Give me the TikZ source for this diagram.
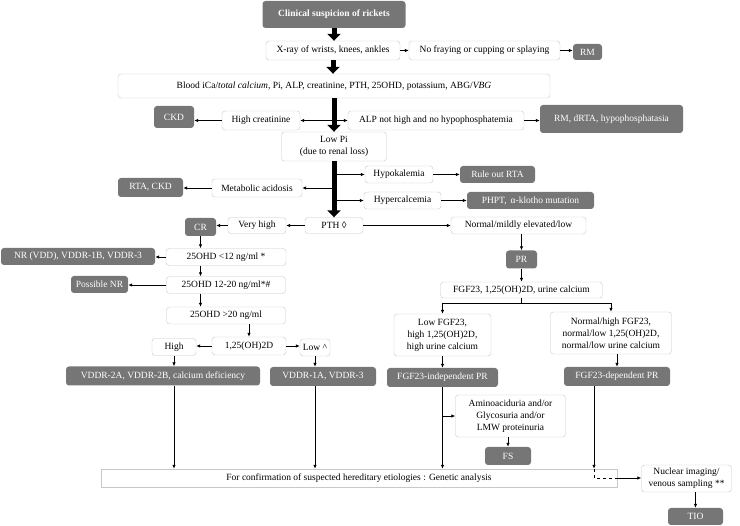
\documentclass[tikz,border=0pt]{standalone}
\usepackage{fontspec}
\setmainfont{Liberation Serif}
\usetikzlibrary{arrows.meta}
\definecolor{boxgray}{RGB}{118,118,118}
\definecolor{linegray}{RGB}{200,200,200}
\tikzset{
 wbox/.style={draw=linegray, fill=white, rounded corners=3pt, align=center, inner sep=1pt,
  font=\fontsize{9.5}{12}\selectfont},
 dbox/.style={fill=boxgray, text=white, rounded corners=3pt, align=center, inner sep=1pt,
  font=\fontsize{9.5}{12}\selectfont},
 sz/.style 2 args={minimum width=#1pt, minimum height=#2pt},
 arr/.style={-{Latex[length=4pt,width=3.5pt]}, line width=0.8pt},
 fat/.style={-{Triangle[length=7pt,width=13pt]}, line width=5pt},
}

\begin{document}
\begin{tikzpicture}[x=1pt,y=-1pt]
\useasboundingbox (0,0) rectangle (740,526);
% main column
\node[dbox,sz={143}{27}] (clin) at (334,14.5) {\textbf{Clinical suspicion of rickets}};
\node[wbox,sz={134}{19}] (xray) at (333,50.5) {X-ray of wrists, knees, ankles};
\node[wbox,sz={151}{19}] (nofray) at (484.5,50.5) {No fraying or cupping or splaying};
\node[dbox,sz={29}{16}] (rm) at (587.5,52) {RM};
\node[wbox,sz={432}{24}] (blood) at (334,86) {Blood iCa/\textit{total calcium}, Pi, ALP, creatinine, PTH, 25OHD, potassium, ABG/\textit{VBG}};
\node[wbox,sz={78}{19}] (hcre) at (261,120.5) {High creatinine};
\node[dbox,sz={40}{22}] (ckd) at (174,117) {CKD};
\node[wbox,sz={176}{19}] (alp) at (436,120.5) {ALP not high and no hypophosphatemia};
\node[dbox,sz={143}{28}] (rmd) at (611.5,119) {RM, dRTA, hypophosphatasia};
\node[wbox,sz={105}{29}] (lowpi) at (334,146.5) {Low Pi\\(due to renal loss)};
\node[wbox,sz={68}{17}] (hypok) at (399,174.5) {Hypokalemia};
\node[dbox,sz={75}{17}] (ruleout) at (497.5,174.5) {Rule out RTA};
\node[wbox,sz={90}{18}] (macid) at (257,188) {Metabolic acidosis};
\node[dbox,sz={65}{19}] (rtackd) at (150.5,187.5) {RTA, CKD};
\node[wbox,sz={77}{17}] (hyperc) at (402.5,200.5) {Hypercalcemia};
\node[dbox,sz={127}{17}] (phpt) at (530.5,200.5) {PHPT,\, α-klotho mutation};
\node[wbox,sz={58}{16}] (pth) at (334,225.5) {PTH ◊};
% calcipenic side
\node[wbox,sz={58}{16}] (vhigh) at (257,225.5) {Very high};
\node[dbox,sz={31}{18}] (cr) at (200.5,227) {CR};
\node[wbox,sz={120}{17}] (oh12) at (226,257) {25OHD <12 ng/ml *};
\node[dbox,sz={154}{17}] (nr) at (78,256.5) {NR (VDD), VDDR-1B, VDDR-3};
\node[wbox,sz={119}{17}] (oh1220) at (226,285) {25OHD 12-20 ng/ml*\#};
\node[dbox,sz={57}{17}] (posnr) at (99.5,284.5) {Possible NR};
\node[wbox,sz={119}{17}] (oh20) at (226,315.5) {25OHD >20 ng/ml};
\node[wbox,sz={74}{18}] (d125) at (249,346) {1,25(OH)2D};
\node[wbox,sz={44}{17}] (high) at (174,347) {High};
\node[wbox,sz={30}{17}] (low) at (315,347.5) {Low \textasciicircum};
\node[dbox,sz={194}{19}] (v2a) at (163,376) {VDDR-2A, VDDR-2B, calcium deficiency};
\node[dbox,sz={106}{19}] (v1a) at (323,376.5) {VDDR-1A, VDDR-3};
% phosphopenic side
\node[wbox,sz={135}{17}] (norm) at (518.5,225.5) {Normal/mildly elevated/low};
\node[dbox,sz={31}{18}] (pr) at (521.5,259.5) {PR};
\node[wbox,sz={162}{16}] (fgf) at (521.5,290) {FGF23, 1,25(OH)2D, urine calcium};
\node[wbox,sz={97}{42}] (lowf) at (442.5,335) {Low FGF23,\\high 1,25(OH)2D,\\high urine calcium};
\node[wbox,sz={121}{42}] (nhf) at (611,333) {Normal/high FGF23,\\normal/low 1,25(OH)2D,\\normal/low urine calcium};
\node[dbox,sz={111}{19}] (indep) at (442.5,377.5) {FGF23-independent PR};
\node[dbox,sz={106}{19}] (dep) at (617,376.5) {FGF23-dependent PR};
\node[wbox,sz={110}{42}] (amino) at (510.5,416) {Aminoaciduria and/or\\Glycosuria and/or\\LMW proteinuria};
\node[dbox,sz={46}{18}] (fs) at (508,456) {FS};
\node[wbox,sharp corners,sz={516}{18}] (gen) at (359,478) {For confirmation of suspected hereditary etiologies : Genetic analysis};
\node[wbox,sz={90}{27}] (nuc) at (686.5,478.5) {Nuclear imaging/\\venous sampling **};
\node[dbox,sz={55}{17}] (tio) at (695.5,516.5) {TIO};
\coordinate (depout) at ([xshift=-23pt]dep.south);

% thin connectors
\draw[arr] (xray.east) -- (nofray.west);
\draw[arr] (nofray.east) -- (nofray.east-|rm.west);
\draw[arr] (hcre.east-|blood.south) -- (hcre.east);
\draw[arr] (alp.west-|blood.south) -- (alp.west);
\draw[arr] (hcre.west) -- (hcre.west-|ckd.east);
\draw[arr] (alp.east) -- (alp.east-|rmd.west);
\draw[arr] (hypok.west-|lowpi.south) -- (hypok.west);
\draw[arr] (macid.east-|lowpi.south) -- (macid.east);
\draw[arr] (hyperc.west-|lowpi.south) -- (hyperc.west);
\draw[arr] (hypok.east) -- (ruleout.west);
\draw[arr] (hyperc.east) -- (phpt.west);
\draw[arr] (macid.west) -- (macid.west-|rtackd.east);
\draw[arr] (pth.west) -- (vhigh.east);
\draw[arr] (vhigh.west) -- (vhigh.west-|cr.east);
\draw[arr] (pth.east) -- (norm.west);
\draw[arr] (pr.north|-norm.south) -- (pr.north);
\draw[arr] (pr.south) -- (pr.south|-fgf.north);
\draw[arr] (fgf.south) -- ++(0,5) coordinate (split) -| (lowf.north);
\draw[arr] (split) -| (nhf.north);
\draw[arr] (lowf.south) -- (lowf.south|-indep.north);
\draw[arr] (dep.north|-nhf.south) -- (dep.north);
\draw[arr] (cr.south) -- (cr.south|-oh12.north);
\draw[arr] (cr.south|-oh12.south) -- (cr.south|-oh1220.north);
\draw[arr] (cr.south|-oh1220.south) -- (cr.south|-oh20.north);
\draw[arr] (oh12.west) -- (oh12.west-|nr.east);
\draw[arr] (oh1220.west) -- (oh1220.west-|posnr.east);
\draw[arr] (d125.north|-oh20.south) -- (d125.north);
\draw[arr] (d125.west) -- (d125.west-|high.east);
\draw[arr] (d125.east) -- (d125.east-|low.west);
\draw[arr] (high.south) -- (high.south|-v2a.north);
\draw[arr] (low.south) -- (low.south|-v1a.north);
\draw[arr] (high.south|-v2a.south) -- (high.south|-gen.north);
\draw[arr] (low.south|-v1a.south) -- (low.south|-gen.north);
\draw[arr] (indep.south) -- (indep.south|-gen.north);
\draw[arr] (amino.west-|indep.south) -- (amino.west);
\draw[arr] (fs.north|-amino.south) -- (fs.north);
\draw[arr] (depout) -- (depout|-gen.north);
\draw[dashed,line width=0.8pt] (depout|-gen.north) -- (depout|-gen.east) -- (gen.east);
\draw[arr] (gen.east) -- (gen.east-|nuc.west);
\draw[arr] (nuc.south-|tio.north) -- (tio.north);

% thick main flow
\draw[fat] (clin.south) -- (clin.south|-xray.north);
\draw[fat] (xray.south) -- (xray.south|-blood.north);
\draw[fat] (blood.south) -- (blood.south|-lowpi.north);
\draw[fat] (lowpi.south) -- (lowpi.south|-pth.north);
\end{tikzpicture}
\end{document}
